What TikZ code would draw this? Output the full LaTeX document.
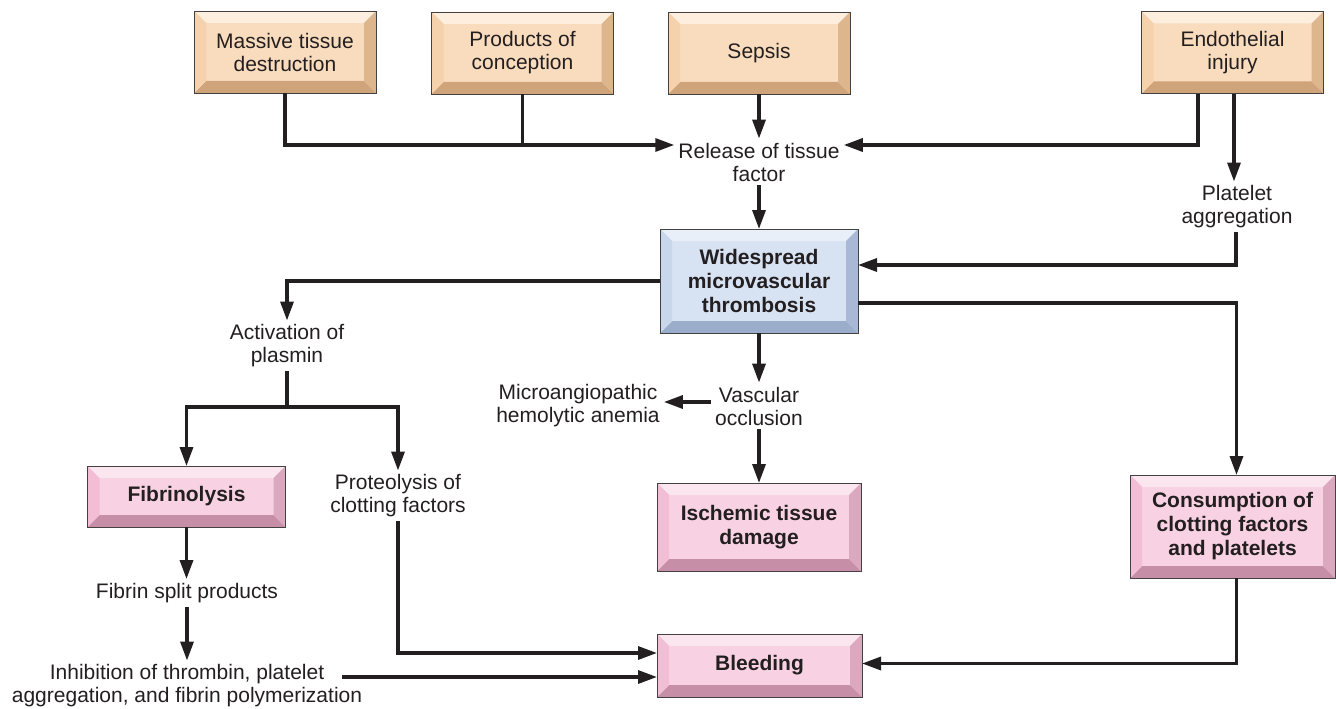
\documentclass[tikz,border=0pt]{standalone}
\usepackage{fontspec}
\setmainfont{Liberation Sans}
\usepackage{xcolor}
\usepackage{tikz}
\usetikzlibrary{arrows.meta, calc}

\definecolor{ink}{HTML}{231F20}
\definecolor{tanmid}{HTML}{F9DCBD}
\definecolor{tantop}{HTML}{FDEEDD}
\definecolor{tanleft}{HTML}{F5D1AC}
\definecolor{tanright}{HTML}{DEB68D}
\definecolor{tanbot}{HTML}{CFA47A}
\definecolor{bluemid}{HTML}{D7E2F2}
\definecolor{bluetop}{HTML}{E8EFF8}
\definecolor{blueleft}{HTML}{C9D7EC}
\definecolor{blueright}{HTML}{A9B9D5}
\definecolor{bluebot}{HTML}{9AAECC}
\definecolor{pinkmid}{HTML}{F8D2E2}
\definecolor{pinktop}{HTML}{FBE5EF}
\definecolor{pinkleft}{HTML}{F3BDD5}
\definecolor{pinkright}{HTML}{DBA9BF}
\definecolor{pinkbot}{HTML}{C78FA7}

\tikzset{
  bevel/.style n args={5}{rectangle, draw=ink!85, line width=0.8pt, fill=#1,
    inner sep=2pt, outer sep=0pt, align=center, text=ink,
    path picture={
      \fill[#2] (path picture bounding box.north west) -- (path picture bounding box.north east)
        -- ($(path picture bounding box.north east)+(-12pt,-12pt)$)
        -- ($(path picture bounding box.north west)+(12pt,-12pt)$) -- cycle;
      \fill[#5] (path picture bounding box.south west) -- (path picture bounding box.south east)
        -- ($(path picture bounding box.south east)+(-12pt,12pt)$)
        -- ($(path picture bounding box.south west)+(12pt,12pt)$) -- cycle;
      \fill[#3] (path picture bounding box.north west) -- ($(path picture bounding box.north west)+(12pt,-12pt)$)
        -- ($(path picture bounding box.south west)+(12pt,12pt)$) -- (path picture bounding box.south west) -- cycle;
      \fill[#4] (path picture bounding box.north east) -- ($(path picture bounding box.north east)+(-12pt,-12pt)$)
        -- ($(path picture bounding box.south east)+(-12pt,12pt)$) -- (path picture bounding box.south east) -- cycle;
    }},
  causebox/.style={bevel={tanmid}{tantop}{tanleft}{tanright}{tanbot},
    minimum width=182pt, minimum height=82pt, font=\fontsize{21}{23}\selectfont},
  corebox/.style={bevel={bluemid}{bluetop}{blueleft}{blueright}{bluebot},
    font=\fontsize{21}{24}\selectfont\bfseries},
  resultbox/.style={bevel={pinkmid}{pinktop}{pinkleft}{pinkright}{pinkbot},
    font=\fontsize{21}{24}\selectfont\bfseries},
  note/.style={align=center, text=ink, inner sep=4pt, font=\fontsize{21}{23}\selectfont},
  flow/.style={draw=ink, line width=3.3pt, -{Triangle[length=19pt,width=13pt]}},
  feedline/.style={draw=ink, line width=3.3pt}
}

\begin{document}
\begin{tikzpicture}[x=1pt, y=-1pt]
    \useasboundingbox (0,0) rectangle (1336,709);

    % Causes
    \node[causebox] (massive) at (285,52) {Massive tissue\\destruction};
    \node[causebox] (products) at (522.5,53) {Products of\\conception};
    \node[causebox] (sepsis) at (759,53) {Sepsis};
    \node[causebox] (endo) at (1232.5,52.5) {Endothelial\\injury};

    % Central chain
    \node[note] (release) at (759,162) {Release of tissue\\factor};
    \node[note] (platelet) at (1237,207) {Platelet\\aggregation};
    \node[corebox, minimum width=198pt, minimum height=104pt] (thrombo) at (759,281) {Widespread\\microvascular\\thrombosis};

    % Consequences
    \node[note] (plasmin) at (287,346) {Activation of\\plasmin};
    \node[note] (occlusion) at (759,406) {Vascular\\occlusion};
    \node[note] (anemia) at (578,406) {Microangiopathic\\hemolytic anemia};
    \node[resultbox, minimum width=198pt, minimum height=61pt] (fibrinolysis) at (186.5,496.5) {Fibrinolysis};
    \node[note] (proteo) at (398,496) {Proteolysis of\\clotting factors};
    \node[resultbox, minimum width=204pt, minimum height=88pt] (ischemic) at (759,527) {Ischemic tissue\\damage};
    \node[resultbox, minimum width=205pt, minimum height=103pt] (consume) at (1232.5,526.5) {Consumption of\\clotting factors\\and platelets};
    \node[note] (split) at (187,593) {Fibrin split products};
    \node[note] (inhibit) at (187,686) {Inhibition of thrombin, platelet\\aggregation, and fibrin polymerization};
    \node[resultbox, minimum width=205pt, minimum height=63pt] (bleeding) at (759.5,665.5) {Bleeding};

    % Connectors
    \coordinate (joint) at (524,145);
    \coordinate (fork) at (287,407);
    \coordinate (inhibout) at (342,677);

    \draw[flow] (massive.south) |- ([yshift=17pt]release.west);
    \draw[feedline] (products.south) -- (products.south |- joint);
    \draw[flow] (sepsis.south) -- (release.north);
    \draw[flow] ([xshift=-34.5pt]endo.south) |- ([yshift=17pt]release.east);
    \draw[flow] ([xshift=1.5pt]endo.south) -- ([xshift=1.5pt]endo.south |- platelet.north);
    \draw[flow] ([xshift=-1pt]platelet.south) |- ([yshift=16pt]thrombo.east);
    \draw[flow] (release.south) -- (thrombo.north);

    \draw[flow] (thrombo.west) -| (plasmin.north);
    \draw[flow] ([yshift=-22pt]thrombo.east) -| ([xshift=4pt]consume.north);
    \draw[flow] (thrombo.south) -- (occlusion.north);
    \draw[flow] ([yshift=4pt]occlusion.west) -- ([yshift=4pt]anemia.east);
    \draw[flow] (occlusion.south) -- (ischemic.north);

    \draw[feedline] (plasmin.south) -- (fork);
    \draw[flow] (fork) -| (fibrinolysis.north);
    \draw[flow] (fork) -| (proteo.north);
    \draw[flow] (fibrinolysis.south) -- (fibrinolysis.south |- split.north);
    \draw[flow] (split.south) -- (inhibit.north);
    \draw[flow] (proteo.south) |- ([yshift=12.5pt]bleeding.west);
    \draw[flow] (inhibout) -- (inhibout -| bleeding.west);
    \draw[flow] ([xshift=4pt]consume.south) |- ([yshift=2pt]bleeding.east);
\end{tikzpicture}
\end{document}
